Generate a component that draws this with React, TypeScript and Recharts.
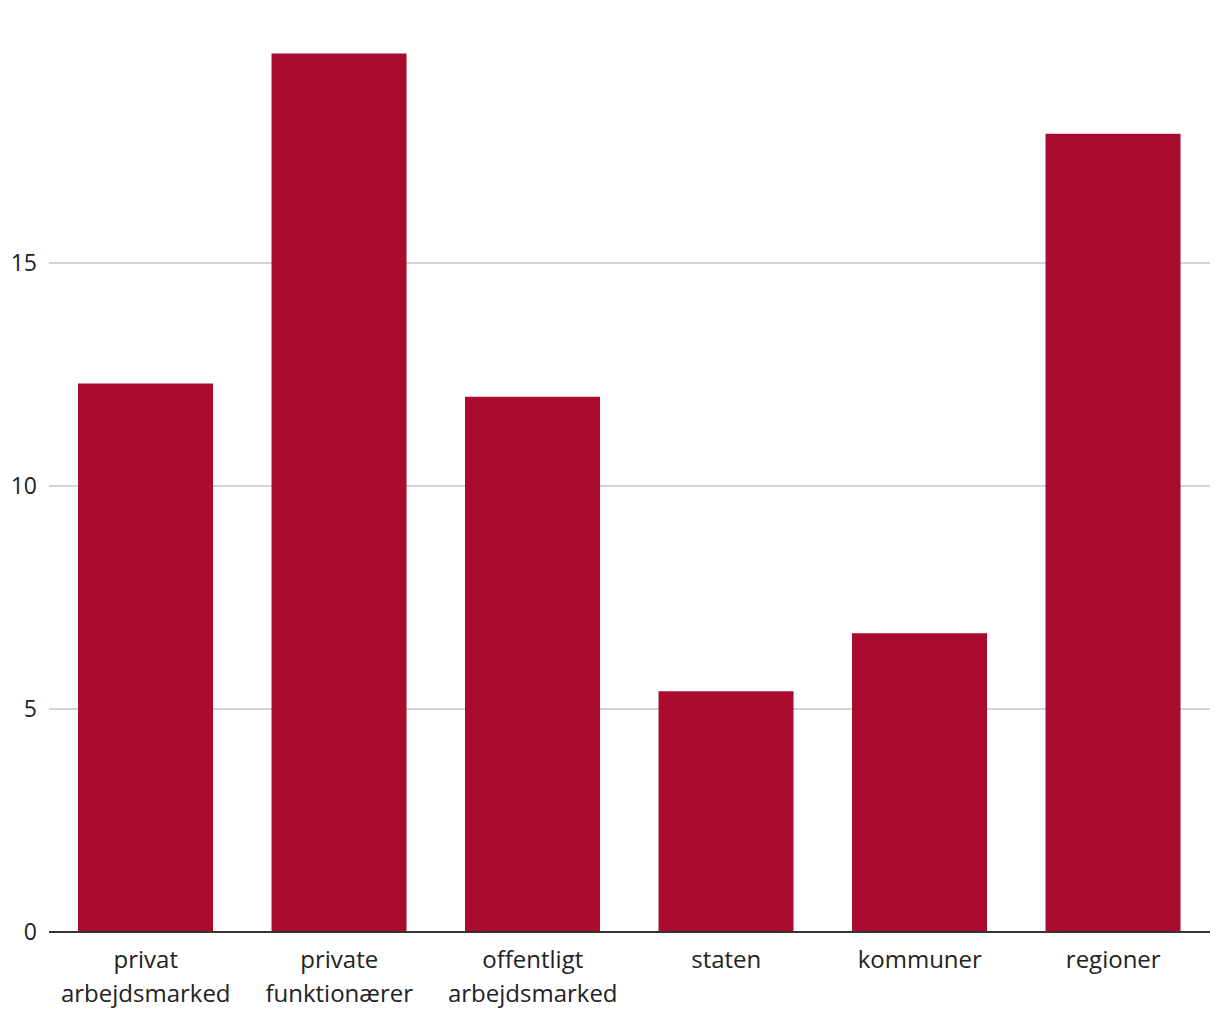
import React from 'react';
import { BarChart, Bar, XAxis, YAxis, CartesianGrid } from 'recharts';

// category labels, split into lines as drawn under the axis
const categories = [
  'privat\narbejdsmarked',
  'private\nfunktionærer',
  'offentligt\narbejdsmarked',
  'staten',
  'kommuner',
  'regioner',
];
const values = [12.3, 19.7, 12.0, 5.4, 6.7, 17.9];
const yTicks = [0, 5, 10, 15];

const data = categories.map((c, i) => ({ name: c, value: values[i] }));

const FONT = '"Open Sans", sans-serif';

const CategoryTick = (props: any) => {
  const { x, y, payload } = props;
  const lines = String(payload.value).split('\n');
  return (
    <text x={x} y={y} textAnchor="middle" fill="#222" fontSize={24} fontFamily={FONT}>
      {lines.map((line: string, i: number) => (
        <tspan key={i} x={x} dy={i === 0 ? 28 : 34}>
          {line}
        </tspan>
      ))}
    </text>
  );
};

export default function App() {
  return (
    <div style={{ position: 'absolute', left: 0, top: 0, width: 1220, height: 1020, background: '#fff' }}>
      <BarChart
        width={1220}
        height={1020}
        data={data}
        margin={{ top: 40, right: 10, left: 0, bottom: 0 }}
        barCategoryGap="15%"
      >
        <CartesianGrid vertical={false} stroke="#c4c4c4" strokeWidth={1.5} syncWithTicks />
        <XAxis
          dataKey="name"
          height={88}
          interval={0}
          tickLine={false}
          axisLine={{ stroke: '#333', strokeWidth: 2 }}
          tick={<CategoryTick />}
        />
        <YAxis
          width={49}
          domain={[0, 20]}
          ticks={yTicks}
          tickLine={false}
          axisLine={false}
          tickMargin={6}
          tick={{ fill: '#222', fontSize: 23, fontFamily: FONT }}
        />
        <Bar dataKey="value" fill="#aa0a2e" isAnimationActive={false} />
      </BarChart>
    </div>
  );
}
